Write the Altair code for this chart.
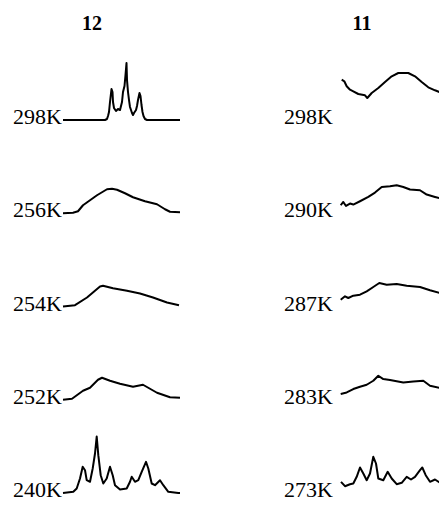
import altair as alt
import pandas as pd

ROW_GAP = 93.25

labels_12 = ["298K", "256K", "254K", "252K", "240K"]
labels_11 = ["298K", "290K", "287K", "283K", "273K"]

# ---- column "12" spectra (x in a.u., intensity in a.u.) ----
x12_298 = [0, 42, 44, 45, 46, 47, 48.5, 49.5, 50, 51, 53, 55, 57, 58, 59, 60, 61.5, 62.5, 63.5, 64,
           65, 66, 67, 69, 70, 71, 73, 74, 75, 76.5, 77.5, 78.5, 79.5, 80.5, 82, 84, 117]
y12_298 = [0, 0, 1, 4, 8, 18, 31, 28, 18, 12, 9, 11, 10, 14, 18, 28, 34, 45, 57, 40,
           28, 20, 13, 7, 5, 7, 10, 14, 20, 27, 24, 15, 8, 4, 1, 0, 0]

x12_256 = [0, 10, 15, 20, 34, 44, 49, 54, 62, 70, 82, 94, 102, 107, 117]
y12_256 = [0, 0.5, 2, 8, 18, 24, 24.5, 23.5, 20, 16, 12, 9, 4, 1.5, 1]

x12_254 = [0, 12, 24, 37, 40, 50, 64, 77, 90, 104, 116]
y12_254 = [0, 1.3, 9, 20, 20.7, 18.3, 15.7, 13, 9, 4, 1.3]

x12_252 = [0, 9, 20, 27, 35, 39, 47, 57, 70, 80, 87, 94, 107, 117]
y12_252 = [0, 1, 9, 12, 20, 22, 19, 16, 13, 15, 11, 7, 2.5, 2]

x12_240 = [0, 10.3, 13.7, 17, 19.7, 22, 23.7, 27, 29.7, 32, 33.7, 35.3, 37.7, 40.3, 43.7, 47, 49.7,
           52, 57, 63.7, 67, 68.7, 72, 75.3, 78.7, 83, 85.3, 88.7, 92, 97, 100.3, 105.3, 115.3, 117]
y12_240 = [0, 1.2, 4.5, 14.5, 26.2, 22.8, 12.8, 11.2, 24.5, 39.5, 56.5, 37.8, 17.8, 9.5, 14.5, 26.2, 17.8,
           7.8, 3.5, 4.5, 11.2, 16.2, 11.2, 12.8, 21.2, 31.2, 24.5, 9.5, 7.8, 12.8, 7.8, 1.2, 0, 0]

# ---- column "11" spectra ----
x11_298 = [0.7, 3.3, 5.7, 9, 12.3, 17.3, 24, 26.3, 30.7, 37.3, 44, 50.7, 57.3, 67.3, 74, 80.7, 87.3, 94, 100.7, 105.7]
y11_298 = [40.3, 38.7, 33.7, 30.3, 28.7, 26, 24.7, 22, 27, 32, 38, 43.7, 47, 47, 43.7, 38, 32.7, 29.7, 27, 24.7]

x11_290 = [-0.3, 2.3, 5, 9, 12.3, 19, 27.3, 34, 40.7, 49, 55.7, 62.3, 69, 79, 85.7, 94, 105.7]
y11_290 = [8, 11.3, 7.3, 9.7, 8.7, 12, 16.3, 20.7, 26.3, 27, 28, 26.3, 23.7, 23, 18.7, 16.3, 13]

x11_287 = [-0.3, 4, 7.3, 12.3, 19, 25.7, 32.3, 38.3, 45.7, 55.7, 65.7, 79, 89, 99, 105.7]
y11_287 = [6.8, 10.2, 8.5, 10.8, 11.8, 15.2, 19.5, 23.5, 21.8, 22.5, 20.8, 19.5, 16.2, 13.5, 11.8]

x11_283 = [-0.3, 5.7, 12.3, 19, 25.7, 32.3, 37.3, 42.3, 49, 62.3, 72.3, 82.3, 89, 99, 105.7]
y11_283 = [5.7, 7.3, 10.7, 13, 15, 19, 24, 20.7, 19.7, 17.3, 18.3, 19, 14, 11.7, 9]

x11_273 = [0, 4, 9, 12.3, 15.7, 19, 22.3, 25.7, 29, 32.3, 35, 37.3, 42.3, 46.7, 50.7, 55.7, 60.7,
           65.7, 70, 74, 79, 81.3, 84.7, 89, 94, 99, 104]
y11_273 = [11.2, 6.8, 8.8, 9.5, 16.2, 25.5, 19.5, 12.8, 19.5, 36.2, 29.5, 14.5, 12.8, 21.2, 14.5, 8.8, 10.2,
           16.2, 13.5, 16.2, 22.8, 25.5, 17.8, 11.2, 13.5, 10.2, 6.2]

titles = ["12", "11"]

traces_12 = [(x12_298, y12_298), (x12_256, y12_256), (x12_254, y12_254), (x12_252, y12_252), (x12_240, y12_240)]
traces_11 = [(x11_298, y11_298), (x11_290, y11_290), (x11_287, y11_287), (x11_283, y11_283), (x11_273, y11_273)]

SERIF = "Liberation Serif"
W, H = 431, 494
Y_SCALE = alt.Scale(domain=[-9, 485], nice=False, zero=False)


def column(traces, labels, x_domain, label_dx):
    rows = []
    for k, (xs, hs) in enumerate(traces):
        off = (4 - k) * ROW_GAP
        for i, (x, h) in enumerate(zip(xs, hs)):
            rows.append({"trace": labels[k] + str(k), "order": i, "x": x, "y": off + h})
    df = pd.DataFrame(rows)
    lab = pd.DataFrame({"label": labels, "x": [0] * 5, "y": [(4 - k) * ROW_GAP for k in range(5)]})
    xs = alt.Scale(domain=x_domain, nice=False, zero=False)

    lines = alt.Chart(df).mark_line(color="black", strokeWidth=2, strokeJoin="round", clip=True).encode(
        x=alt.X("x:Q", scale=xs, axis=None),
        y=alt.Y("y:Q", scale=Y_SCALE, axis=None),
        detail="trace:N",
        order="order:Q",
    )
    text = alt.Chart(lab).mark_text(
        align="right", baseline="alphabetic", dx=label_dx, dy=4,
        font=SERIF, fontSize=22, color="black"
    ).encode(
        x=alt.X("x:Q", scale=xs, axis=None),
        y=alt.Y("y:Q", scale=Y_SCALE, axis=None),
        text="label:N",
    )
    return lines, text


l12, t12 = column(traces_12, labels_12, [-55, 376], -1)
l11, t11 = column(traces_11, labels_11, [-333, 98], -8)

head = pd.DataFrame({"title": titles})
title12 = alt.Chart(head).transform_filter(alt.datum.title == "12").mark_text(
    font=SERIF, fontSize=20, fontWeight="bold", color="black", align="center", baseline="alphabetic"
).encode(text="title:N", x=alt.value(84), y=alt.value(22))
title11 = alt.Chart(head).transform_filter(alt.datum.title == "11").mark_text(
    font=SERIF, fontSize=20, fontWeight="bold", color="black", align="center", baseline="alphabetic"
).encode(text="title:N", x=alt.value(354), y=alt.value(22))

chart = alt.layer(l12, t12, l11, t11, title12, title11).resolve_scale(x="independent").properties(
    width=W, height=H,
    autosize=alt.AutoSizeParams(type="none"),
    padding={"left": 0, "top": 0, "right": 0, "bottom": 0},
).configure_view(stroke=None)

chart.save("out.html", embed_options={"renderer": "svg", "actions": False})
